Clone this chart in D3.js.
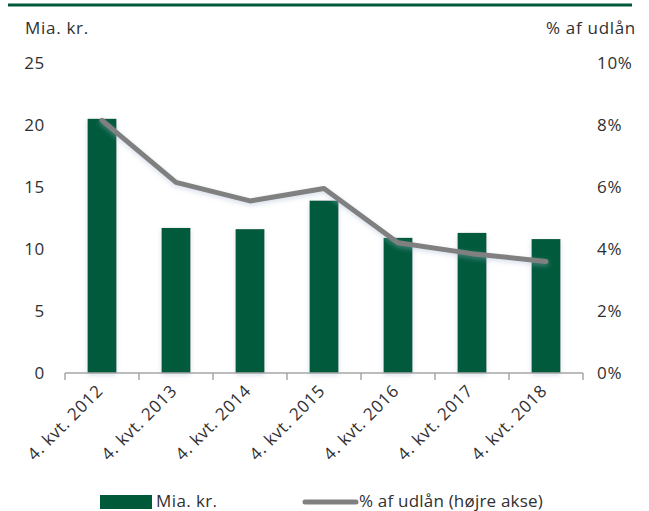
<!DOCTYPE html>
<html>
<head>
<meta charset="utf-8">
<script src="https://cdn.jsdelivr.net/npm/d3@7"></script>
<style>
  body { margin: 0; background: #fff; }
  svg text { font-family: "Open Sans", Lato, sans-serif; fill: #303030; letter-spacing: 0.7px; }
</style>
</head>
<body>
<svg id="chart" width="649" height="511"></svg>
<script>
const categories = ["4. kvt. 2012", "4. kvt. 2013", "4. kvt. 2014", "4. kvt. 2015", "4. kvt. 2016", "4. kvt. 2017", "4. kvt. 2018"];
const miaKr = [20.5, 11.7, 11.6, 13.9, 10.9, 11.3, 10.8];
const pctUdlaan = [8.15, 6.15, 5.55, 5.95, 4.2, 3.85, 3.6];
const leftTicks = [0, 5, 10, 15, 20, 25];
const rightTicks = [0, 2, 4, 6, 8, 10];

const green = "#005a3a";
const grey = "#808080";

const svg = d3.select("#chart");

// soft shadow like the Excel original
const defs = svg.append("defs");
const f = defs.append("filter").attr("id", "glow").attr("x", "-30%").attr("y", "-30%").attr("width", "160%").attr("height", "160%");
f.append("feDropShadow").attr("dx", 0).attr("dy", 2).attr("stdDeviation", 2.5)
  .attr("flood-color", "#9fb3cf").attr("flood-opacity", 0.45);

// top rule
svg.append("line")
  .attr("x1", 8).attr("x2", 632).attr("y1", 5).attr("y2", 5)
  .attr("stroke", green).attr("stroke-width", 3);

const x = d3.scaleBand().domain(categories).range([65, 583]);
const yL = d3.scaleLinear().domain([0, 25]).range([373, 63]);
const yR = d3.scaleLinear().domain([0, 10]).range([373, 63]);

// axis titles
svg.append("text").attr("x", 25).attr("y", 34).attr("font-size", 17).text("Mia. kr.");
svg.append("text").attr("x", 636).attr("y", 34).attr("font-size", 17).attr("text-anchor", "end").text("% af udlån");

// left tick labels
svg.append("g").selectAll("text").data(leftTicks).join("text")
  .attr("x", 45).attr("y", d => yL(d)).attr("dy", "0.35em")
  .attr("text-anchor", "end").attr("font-size", 17).text(d => d);

// right tick labels
svg.append("g").selectAll("text").data(rightTicks).join("text")
  .attr("x", 597).attr("y", d => yR(d)).attr("dy", "0.35em")
  .attr("font-size", 17).text(d => d + "%");

// bars
const bw = x.bandwidth() * 0.39;
svg.append("g").attr("filter", "url(#glow)").selectAll("rect").data(categories).join("rect")
  .attr("x", d => x(d) + x.bandwidth() / 2 - bw / 2)
  .attr("width", bw)
  .attr("y", (d, i) => yL(miaKr[i]))
  .attr("height", (d, i) => yL(0) - yL(miaKr[i]))
  .attr("fill", green);

// x axis
const xAxis = svg.append("g").attr("transform", "translate(0,373)");
xAxis.append("line").attr("x1", 65).attr("x2", 583).attr("stroke", "#a6a6a6").attr("stroke-width", 1.5);
const edges = categories.map(c => x(c)).concat([x.range()[1]]);
xAxis.selectAll(".tick").data(edges).join("line")
  .attr("x1", d => d).attr("x2", d => d).attr("y1", 0).attr("y2", 7)
  .attr("stroke", "#a6a6a6").attr("stroke-width", 1.5);

// rotated category labels
svg.append("g").selectAll("text").data(categories).join("text")
  .attr("transform", d => `translate(${x(d) + x.bandwidth() / 2 + 2},${392}) rotate(-45)`)
  .attr("text-anchor", "end").attr("font-size", 17).text(d => d);

// line on right axis
const line = d3.line()
  .x((d, i) => x(categories[i]) + x.bandwidth() / 2)
  .y(d => yR(d));
svg.append("path").datum(pctUdlaan)
  .attr("d", line).attr("fill", "none")
  .attr("stroke", grey).attr("stroke-width", 5)
  .attr("stroke-linecap", "round").attr("stroke-linejoin", "round")
  .attr("filter", "url(#glow)");

// legend
const lg = svg.append("g");
lg.append("rect").attr("x", 100).attr("y", 495).attr("width", 52).attr("height", 14).attr("fill", green);
lg.append("text").attr("x", 156).attr("y", 507).attr("font-size", 17).style("letter-spacing", "0.4px").text("Mia. kr.");
lg.append("line").attr("x1", 305).attr("x2", 356).attr("y1", 502).attr("y2", 502)
  .attr("stroke", grey).attr("stroke-width", 5).attr("stroke-linecap", "round");
lg.append("text").attr("x", 359).attr("y", 507).attr("font-size", 17).style("letter-spacing", "0.2px").text("% af udlån (højre akse)");
</script>
</body>
</html>
